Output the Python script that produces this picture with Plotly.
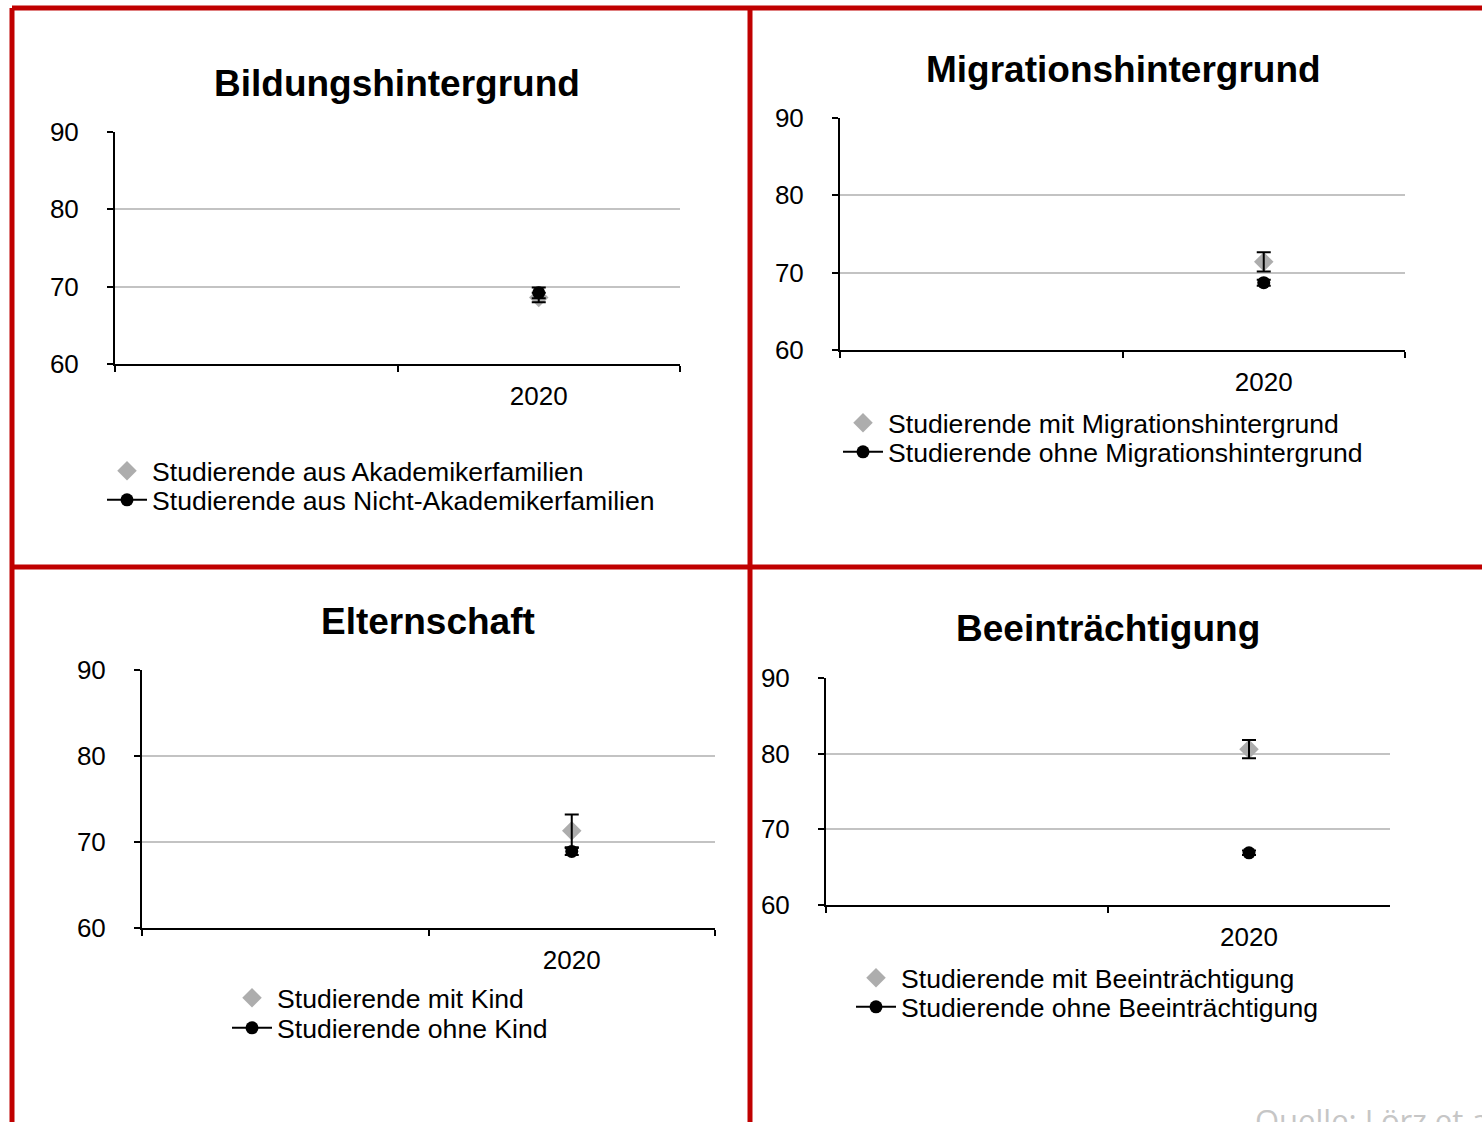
import plotly.graph_objects as go

W, H = 1482, 1122

# ---------------- data ----------------
CATEGORIES = [" ", "2020"]
YEAR = ["2020"]
Y_TICKS = [60, 70, 80, 90]
TITLES = ["Bildungshintergrund", "Migrationshintergrund", "Elternschaft", "Beeinträchtigung"]
GREY_NAMES = ["Studierende aus Akademikerfamilien", "Studierende mit Migrationshintergrund",
              "Studierende mit Kind", "Studierende mit Beeinträchtigung"]
BLACK_NAMES = ["Studierende aus Nicht-Akademikerfamilien", "Studierende ohne Migrationshintergrund",
               "Studierende ohne Kind", "Studierende ohne Beeinträchtigung"]
GREY_VALUES = [68.6, 71.4, 71.3, 80.6]
GREY_ERRORS = [0.6, 1.25, 1.9, 1.2]
BLACK_VALUES = [69.2, 68.7, 68.9, 66.9]
BLACK_ERRORS = [0.7, 0.4, 0.4, 0.3]
SOURCE = "Quelle: Lörz et al. (2021)"

# ---------------- layout geometry (pixels) ----------------
# plot areas: (left, right, top, bottom)
AREAS = [(115, 680, 132, 364), (840, 1405, 118, 350), (142, 715, 670, 928), (826, 1390, 678, 905)]
TITLE_POS = [(397, 84), (1123, 69), (428, 621), (1108, 629)]
# legend rows: marker x, first row y, second row y
LEGEND_POS = [(127, 471, 500), (863, 423, 452), (252, 998, 1028), (876, 978, 1007)]

FONT = "Arial, Liberation Sans, sans-serif"
GREY = "#ADADAD"
RED = "#C00000"
ITEMW = 40


def px(x):
    return x / W


def py(y):
    return 1 - y / H


fig = go.Figure()
layout = dict(width=W, height=H, margin=dict(l=0, r=0, t=0, b=0, pad=0, autoexpand=False),
              paper_bgcolor="white", plot_bgcolor="white", showlegend=True,
              font=dict(family=FONT, size=26, color="black"))
annotations = []
shapes = []


def legend_name(k):
    return "legend" if k == 1 else "legend%d" % k


for i in range(4):
    n = "" if i == 0 else str(i + 1)
    xa, ya = "x" + n, "y" + n
    l, r, t, b = AREAS[i]
    layout["xaxis" + n] = dict(domain=[px(l), px(r)], anchor=ya, type="category",
                               categoryorder="array", categoryarray=CATEGORIES,
                               range=[-0.5, 1.5], tickson="boundaries",
                               showline=True, linecolor="black", linewidth=2,
                               ticks="outside", ticklen=6, tickwidth=2, tickcolor="black",
                               showgrid=False, tickfont=dict(size=26, family=FONT),
                               ticklabelstandoff=8, fixedrange=True, automargin=False)
    layout["yaxis" + n] = dict(domain=[py(b), py(t)], anchor=xa, range=[60, 90],
                               tickvals=Y_TICKS, showline=True, linecolor="black", linewidth=2,
                               ticks="outside", ticklen=6, tickwidth=2, tickcolor="black",
                               showgrid=True, gridcolor="#C3C3C3", gridwidth=2,
                               zeroline=False, tickfont=dict(size=26, family=FONT),
                               ticklabelstandoff=23, fixedrange=True, automargin=False)
    lg1 = legend_name(2 * i + 1)
    lg2 = legend_name(2 * i + 2)
    # markers
    fig.add_trace(go.Scatter(x=YEAR, y=[GREY_VALUES[i]], name=GREY_NAMES[i], mode="markers",
                             marker=dict(symbol="diamond", size=15, color=GREY),
                             xaxis=xa, yaxis=ya, legend=lg1, hoverinfo="skip"))
    fig.add_trace(go.Scatter(x=YEAR, y=[BLACK_VALUES[i]], name=BLACK_NAMES[i], mode="lines+markers",
                             marker=dict(symbol="circle", size=13, color="black"),
                             line=dict(color="black", width=2),
                             xaxis=xa, yaxis=ya, legend=lg2, hoverinfo="skip"))
    # error bars drawn on top of the markers
    for vals, errs in ((GREY_VALUES, GREY_ERRORS), (BLACK_VALUES, BLACK_ERRORS)):
        fig.add_trace(go.Scatter(x=YEAR, y=[vals[i]], mode="markers",
                                 marker=dict(size=1, opacity=0), showlegend=False,
                                 error_y=dict(type="data", array=[errs[i]], color="black",
                                              thickness=2, width=7),
                                 xaxis=xa, yaxis=ya, hoverinfo="skip"))
    mx, r1, r2 = LEGEND_POS[i]
    for lg, ry in ((lg1, r1), (lg2, r2)):
        layout[lg] = dict(x=px(mx - (ITEMW / 2 + 5)), y=py(ry), xanchor="left", yanchor="middle",
                          bgcolor="rgba(0,0,0,0)", borderwidth=0, itemwidth=ITEMW,
                          font=dict(size=26.6, family=FONT, color="black"),
                          itemclick=False, itemdoubleclick=False)
    tx, ty = TITLE_POS[i]
    annotations.append(dict(text="<b>" + TITLES[i] + "</b>", x=px(tx), y=py(ty), xref="paper",
                            yref="paper", xanchor="center", yanchor="middle", showarrow=False,
                            font=dict(size=37, family=FONT, color="black")))

annotations.append(dict(text=SOURCE, x=px(1253), y=py(1120), xref="paper", yref="paper",
                        xanchor="left", yanchor="middle", showarrow=False,
                        font=dict(size=31, family="Open Sans, sans-serif", color="#C6C6C6")))

# red frame lines
line = dict(color=RED, width=5)
for (x0, y0, x1, y1) in [(12, 8, W + 5, 8), (12, 8, 12, H + 5), (750, 8, 750, H + 5),
                         (12, 567, W + 5, 567)]:
    shapes.append(dict(type="line", xref="paper", yref="paper", x0=px(x0), y0=py(y0),
                       x1=px(x1), y1=py(y1), line=line, layer="above"))

layout["annotations"] = annotations
layout["shapes"] = shapes
fig.update_layout(**layout)

fig.write_html("out.html", config={"displayModeBar": False},
               post_script="document.body.style.margin='0';document.body.style.overflow='hidden';")
